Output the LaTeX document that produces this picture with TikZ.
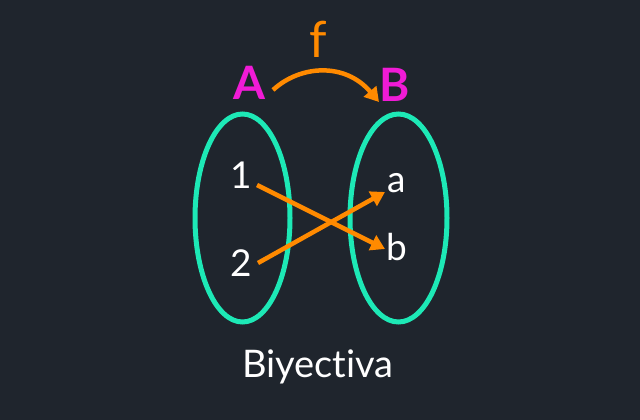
\documentclass[tikz,border=0pt]{standalone}
\usepackage{fontspec}
\setmainfont{Lato}[Ligatures=NoCommon]
\usetikzlibrary{arrows.meta}
\definecolor{bg}{HTML}{1F252D}
\definecolor{setc}{HTML}{1DE9B6}
\definecolor{arr}{HTML}{FF8A00}
\definecolor{mag}{HTML}{F01BD6}
\tikzset{
  setell/.style={draw=setc, line width=5pt},
  maparrow/.style={draw=arr, line width=4.5pt, -{Triangle[length=14pt,width=16pt]}},
  elem/.style={text=white, font=\fontsize{37}{42}\selectfont, inner sep=0pt},
  setname/.style={text=mag, font=\fontsize{46}{50}\selectfont\bfseries, inner sep=0pt},
}
\begin{document}
\begin{tikzpicture}[x=1pt,y=-1pt]
\fill[bg] (0,0) rectangle (640,420);
\useasboundingbox (0,0) rectangle (640,420);
\draw[setell] (242.5,218) ellipse [x radius=47.5, y radius=104];
\draw[setell] (398.5,218) ellipse [x radius=48.5, y radius=104];
\node[elem] (n1) at (241,175) {1};
\node[elem] (n2) at (241,263) {2};
\node[elem] (na) at (397,183) {a};
\node[elem] (nb) at (397,247) {b};
\node[setname] (A) at (249,83) {A};
\node[setname] (B) at (395,85) {B};
\node[text=arr, font=\fontsize{50}{54}\selectfont, inner sep=0pt] (f) at (318,39) {f};
\coordinate (s1) at (257,185);
\coordinate (e1) at (385,249);
\coordinate (s2) at (258,263);
\coordinate (e2) at (385,192);
\draw[maparrow] (s1) -- (e1);
\draw[maparrow] (s2) -- (e2);
\coordinate (fa) at (273,90);
\coordinate (fb) at (379,102);
\draw[maparrow] (fa) .. controls (300,65) and (345,62) .. (fb);
\node[text=white, font=\fontsize{38}{42}\selectfont, inner sep=0pt] (title) at (318,367) {Biyectiva};
\end{tikzpicture}
\end{document}
